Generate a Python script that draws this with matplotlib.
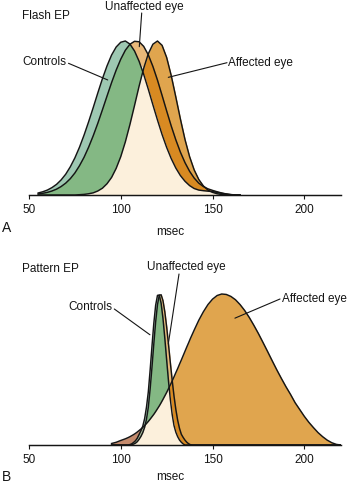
import numpy as np
import matplotlib
matplotlib.use("Agg")
import matplotlib.pyplot as plt

plt.rcParams['font.family'] = ['Liberation Sans', 'DejaVu Sans']

# ---- data (heights relative to peak = 1) ----
# panel A: flash EP latency distributions
x_flash = [55, 57.5, 60, 62.5, 65, 67.5, 70, 72.5, 75, 77.5, 80, 82.5, 85, 87.5, 90, 92.5,
           95, 97.5, 100, 102.5, 105, 107.5, 110, 112.5, 115, 117.5, 120, 122.5, 125, 127.5,
           130, 132.5, 135, 137.5, 140, 142.5, 145, 147.5, 150, 152.5, 155, 157.5, 160, 162.5, 165]
controls_flash = [0.013, 0.021, 0.032, 0.048, 0.069, 0.098, 0.135, 0.183, 0.241, 0.310,
                  0.389, 0.476, 0.568, 0.663, 0.755, 0.838, 0.909, 0.961, 0.992, 1.0,
                  0.980, 0.935, 0.868, 0.783, 0.687, 0.586, 0.487, 0.393, 0.309, 0.236,
                  0.175, 0.126, 0.089, 0.061, 0.042, 0.032, 0.028, 0.025, 0.022, 0.017,
                  0.011, 0.006, 0.002, 0, 0]
unaffected_flash = [0.007, 0.011, 0.017, 0.026, 0.038, 0.055, 0.077, 0.106, 0.143, 0.190,
                    0.245, 0.311, 0.385, 0.466, 0.553, 0.642, 0.730, 0.811, 0.882, 0.940,
                    0.979, 0.998, 0.995, 0.965, 0.910, 0.835, 0.746, 0.647, 0.546, 0.448,
                    0.358, 0.278, 0.210, 0.154, 0.110, 0.077, 0.055, 0.040, 0.030, 0.021,
                    0.013, 0.007, 0.003, 0, 0]
affected_flash = [0, 0, 0, 0, 0, 0, 0, 0, 0, 0.002,
                  0.004, 0.008, 0.014, 0.026, 0.044, 0.073, 0.114, 0.173, 0.249, 0.345,
                  0.458, 0.581, 0.707, 0.823, 0.917, 0.979, 1.0, 0.972, 0.893, 0.775,
                  0.636, 0.493, 0.360, 0.249, 0.163, 0.101, 0.059, 0.032, 0.017, 0.008,
                  0.003, 0.001, 0, 0, 0]

# panel B: pattern EP latency distributions
x_pattern = [95, 97.5, 100, 102.5,
             104, 105, 106, 107, 108, 109, 110, 111, 112, 113, 114, 115, 116, 117, 118, 119,
             120, 121, 122, 123, 124, 125, 126, 127, 128, 129, 130, 131, 132, 133, 134, 135,
             136, 137, 138, 139, 140,
             142.5, 145, 147.5, 150, 152.5, 155, 157.5, 160, 162.5, 165, 167.5, 170, 172.5,
             175, 177.5, 180, 182.5, 185, 187.5, 190, 192.5, 195, 197.5, 200, 202.5, 205,
             207.5, 210, 212.5, 215, 217.5, 220]
controls_pattern = [0, 0, 0, 0,
                    0, 0.003, 0.008, 0.017, 0.028, 0.045, 0.070, 0.095, 0.125, 0.175,
                    0.250, 0.351, 0.496, 0.654, 0.805, 0.925, 0.991, 0.993, 0.938, 0.838,
                    0.707, 0.563, 0.424, 0.302, 0.203, 0.129, 0.085, 0.055, 0.033, 0.018,
                    0.007, 0, 0, 0, 0, 0, 0,
                    0, 0, 0, 0, 0, 0, 0, 0, 0, 0, 0, 0, 0, 0, 0, 0,
                    0, 0, 0, 0, 0, 0, 0, 0, 0, 0, 0, 0, 0, 0, 0, 0]
unaffected_pattern = [0, 0, 0, 0,
                      0, 0, 0.002, 0.006, 0.012, 0.022, 0.038, 0.057, 0.082, 0.117,
                      0.170, 0.249, 0.370, 0.514, 0.669, 0.814, 0.929, 0.992, 0.995, 0.956,
                      0.882, 0.783, 0.667, 0.546, 0.430, 0.325, 0.236, 0.164, 0.110, 0.071,
                      0.050, 0.032, 0.018, 0.008, 0.002, 0, 0,
                      0, 0, 0, 0, 0, 0, 0, 0, 0, 0, 0, 0, 0, 0, 0, 0,
                      0, 0, 0, 0, 0, 0, 0, 0, 0, 0, 0, 0, 0, 0, 0, 0]
affected_pattern = [0.010, 0.018, 0.030, 0.041,
                    0.049, 0.055, 0.062, 0.069, 0.077, 0.086, 0.096, 0.106, 0.117, 0.129,
                    0.142, 0.156, 0.171, 0.187, 0.203, 0.221, 0.240, 0.259, 0.280, 0.302,
                    0.325, 0.348, 0.373, 0.398, 0.424, 0.451, 0.479, 0.506, 0.535, 0.563,
                    0.592, 0.621, 0.650, 0.678, 0.707, 0.734, 0.761,
                    0.826, 0.882, 0.930, 0.966, 0.990, 1.0, 0.997, 0.984, 0.962, 0.930,
                    0.891, 0.845, 0.793, 0.738, 0.679, 0.619, 0.558, 0.498, 0.441, 0.386,
                    0.335, 0.280, 0.235, 0.190, 0.150, 0.115, 0.082, 0.055, 0.032, 0.015,
                    0.004, 0]

ticks = [50, 100, 150, 200]
W, H = 349, 488

# colour for each overlap combination (C=controls, U=unaffected, A=affected)
region_colors = {
    'C': '#9ec8b2', 'U': '#e9b97a', 'A': '#e0a54e',
    'CU': '#84b884', 'UA': '#d88a22', 'CA': '#a9c0a0', 'CUA': '#fcf0dc',
}
brown = '#c48a6c'


def fp(px, py):
    # pixel position (from top left) -> figure fraction
    return px / W, 1 - py / H


def draw_panel(ax, x, curves, brown_left=None):
    x = np.array(x, dtype=float)
    cv = {k: np.array(v, dtype=float) for k, v in curves.items()}
    for combo, col in region_colors.items():
        ins = [cv[k] for k in combo]
        outs = [cv[k] for k in 'CUA' if k not in combo]
        hi = np.min(ins, axis=0)
        lo = np.max(outs, axis=0) if outs else np.zeros_like(x)
        if combo == 'A' and brown_left is not None:
            m = hi > lo
            ax.fill_between(x, lo, hi, where=m & (x >= brown_left), interpolate=True,
                            color=col, lw=0.4)
            ax.fill_between(x, lo, hi, where=m & (x <= brown_left), interpolate=True,
                            color=brown, lw=0.4)
        else:
            ax.fill_between(x, lo, hi, where=hi > lo, interpolate=True, color=col, lw=0.4)
    for k in 'CUA':
        ax.plot(x, cv[k], color='#151515', lw=1.05, solid_joinstyle='round')
    ax.set_xlim(50, 220)
    ax.set_xticks(ticks)
    ax.set_yticks([])
    for s in ['top', 'left', 'right']:
        ax.spines[s].set_visible(False)
    ax.spines['bottom'].set_linewidth(1.05)
    ax.spines['bottom'].set_color('#151515')
    ax.tick_params(axis='x', direction='out', length=3, width=0.8, pad=3.5,
                   labelsize=8.5, colors='#151515')
    ax.patch.set_alpha(0)


fig = plt.figure(figsize=(W / 100, H / 100), dpi=100)

# panel A: baseline at y=195px, peak at y=41px
axA = fig.add_axes([29 / W, 1 - 195 / H, 312 / W, 195 / H])
draw_panel(axA, x_flash, {'C': controls_flash, 'U': unaffected_flash, 'A': affected_flash})
axA.set_ylim(0, 195 / 154)

# panel B: baseline at y=445px, peak at y=294px
axB = fig.add_axes([29 / W, 1 - 445 / H, 312 / W, 201 / H])
draw_panel(axB, x_pattern, {'C': controls_pattern, 'U': unaffected_pattern, 'A': affected_pattern},
           brown_left=113)
axB.set_ylim(0, 201 / 151)

txt = dict(fontsize=8.5, color='#151515')
line = dict(arrowstyle='-', lw=0.8, color='#151515', shrinkA=0, shrinkB=0)

# labels panel A
fig.text(*fp(22, 16), 'Flash EP', ha='left', va='center', **txt)
fig.text(*fp(144, 7), 'Unaffected eye', ha='center', va='center', **txt)
fig.text(*fp(22, 62), 'Controls', ha='left', va='center', **txt)
fig.text(*fp(228, 62.7), 'Affected eye', ha='left', va='center', **txt)
fig.text(*fp(170.5, 231.7), 'msec', ha='center', va='center', **txt)
fig.text(*fp(2, 228), 'A', ha='left', va='center', fontsize=10, color='#151515')
axA.annotate('', xy=(110.1, 0.963), xytext=fp(141.7, 13), textcoords='figure fraction',
             arrowprops=line)
axA.annotate('', xy=(92.9, 0.747), xytext=fp(68.5, 63.3), textcoords='figure fraction',
             arrowprops=line)
axA.annotate('', xy=(125.9, 0.764), xytext=fp(227, 62.7), textcoords='figure fraction',
             arrowprops=line)

# labels panel B
fig.text(*fp(22, 269), 'Pattern EP', ha='left', va='center', **txt)
fig.text(*fp(186, 266.7), 'Unaffected eye', ha='center', va='center', **txt)
fig.text(*fp(68, 307.3), 'Controls', ha='left', va='center', **txt)
fig.text(*fp(282, 299), 'Affected eye', ha='left', va='center', **txt)
fig.text(*fp(170.5, 477), 'msec', ha='center', va='center', **txt)
fig.text(*fp(2, 477), 'B', ha='left', va='center', fontsize=10, color='#151515')
axB.annotate('', xy=(125.9, 0.669), xytext=fp(179, 274), textcoords='figure fraction',
             arrowprops=line)
axB.annotate('', xy=(115.9, 0.73), xytext=fp(114.3, 309), textcoords='figure fraction',
             arrowprops=line)
axB.annotate('', xy=(162.2, 0.84), xytext=fp(280, 299), textcoords='figure fraction',
             arrowprops=line)

fig.savefig('out.png', dpi=100)
